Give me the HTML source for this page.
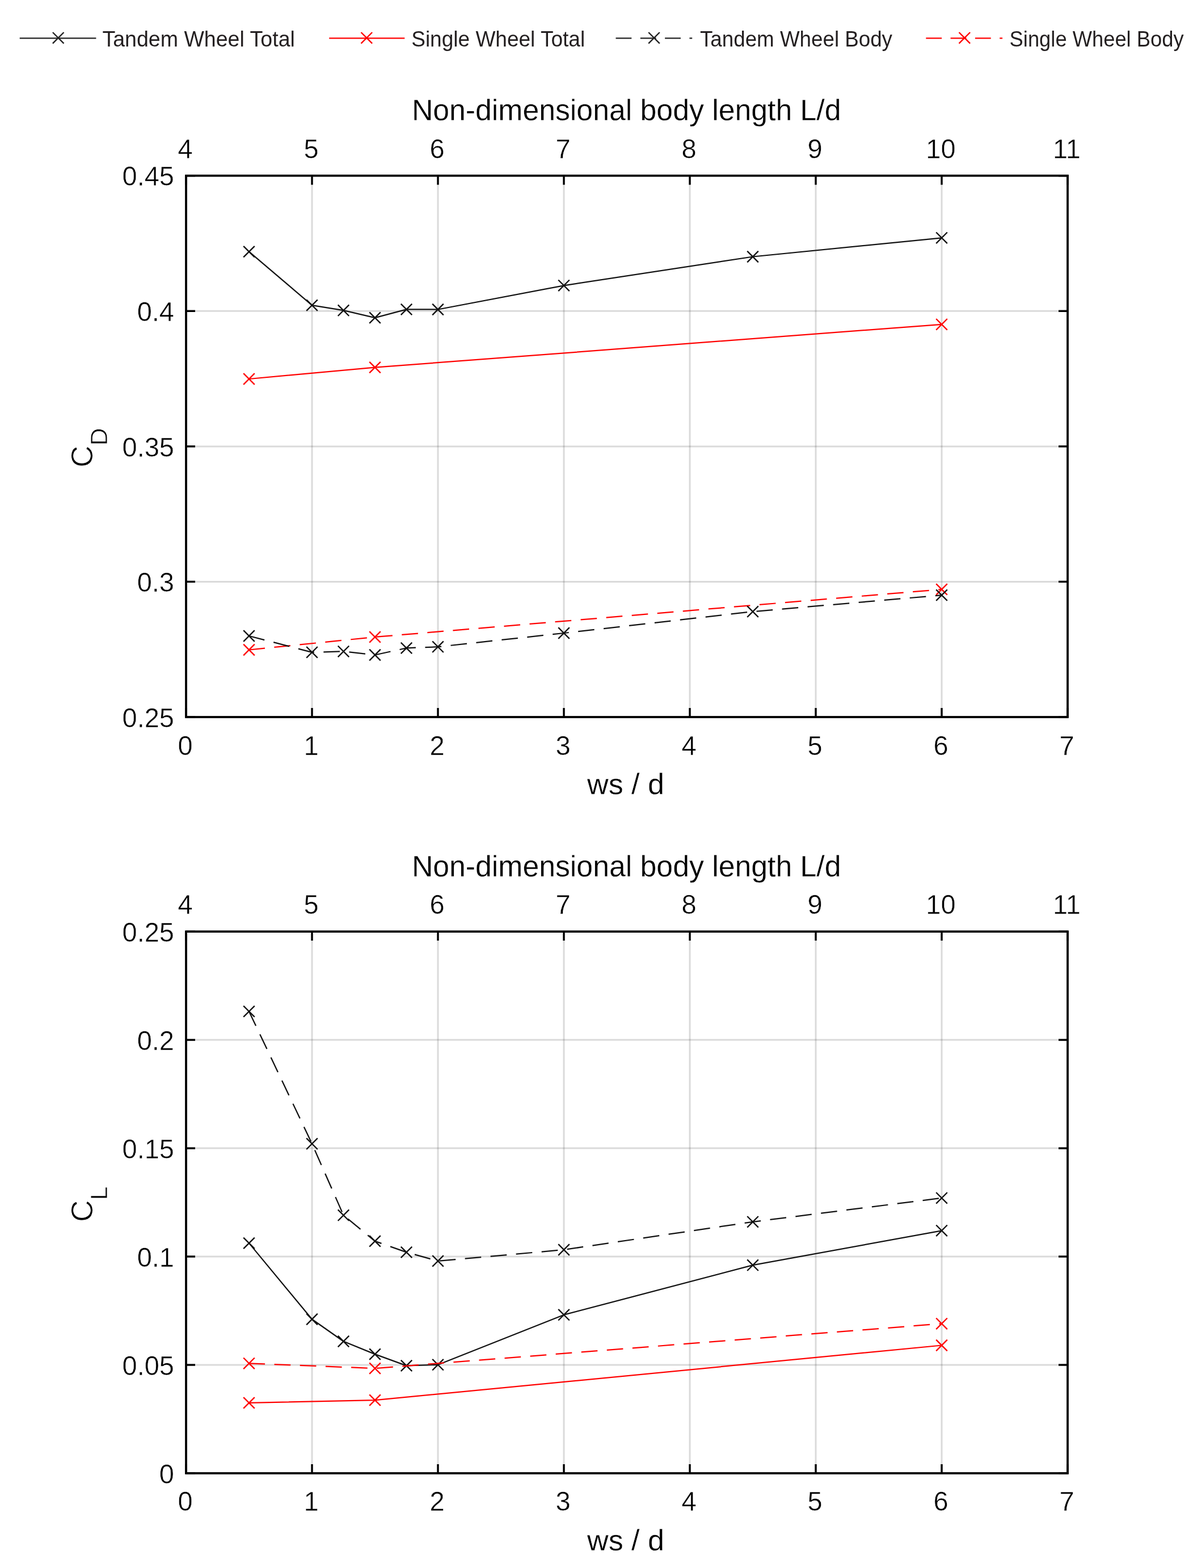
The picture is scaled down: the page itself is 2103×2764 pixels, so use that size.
<!DOCTYPE html>
<html><head><meta charset="utf-8"><title>CD CL vs ws/d</title>
<style>html,body{margin:0;padding:0;background:#fff;} svg{display:block;}</style>
</head><body>
<svg width="2103" height="2764" viewBox="0 0 2103 2764">
<rect width="2103" height="2764" fill="#fff"/>
<line x1="34.7" y1="67.4" x2="169.4" y2="67.4" stroke="#222" stroke-width="2.4"/>
<path d="M92.9 57.0L112.5 76.6M92.9 76.6L112.5 57.0" stroke="#222" stroke-width="2.4" fill="none"/>
<text x="180.4" y="82" font-family='"Liberation Sans", Arial, sans-serif' font-size="38" fill="#231f20" textLength="339.5" lengthAdjust="spacingAndGlyphs">Tandem Wheel Total</text>
<line x1="580.2" y1="67.4" x2="713.3" y2="67.4" stroke="#ff0000" stroke-width="2.4"/>
<path d="M636.5 57.0L656.1 76.6M636.5 76.6L656.1 57.0" stroke="#ff0000" stroke-width="2.4" fill="none"/>
<text x="725.2" y="82" font-family='"Liberation Sans", Arial, sans-serif' font-size="38" fill="#231f20" textLength="306.0" lengthAdjust="spacingAndGlyphs">Single Wheel Total</text>
<line x1="1085.5" y1="67.4" x2="1220.2" y2="67.4" stroke="#222" stroke-width="2.4" stroke-dasharray="27.8 15.5"/>
<path d="M1143.2 57.0L1162.8 76.6M1143.2 76.6L1162.8 57.0" stroke="#222" stroke-width="2.4" fill="none"/>
<text x="1234.0" y="82" font-family='"Liberation Sans", Arial, sans-serif' font-size="38" fill="#231f20" textLength="339.0" lengthAdjust="spacingAndGlyphs">Tandem Wheel Body</text>
<line x1="1632.3" y1="67.4" x2="1767.1" y2="67.4" stroke="#ff0000" stroke-width="2.4" stroke-dasharray="27.8 15.5"/>
<path d="M1690.5 57.0L1710.1 76.6M1690.5 76.6L1710.1 57.0" stroke="#ff0000" stroke-width="2.4" fill="none"/>
<text x="1779.6" y="82" font-family='"Liberation Sans", Arial, sans-serif' font-size="38" fill="#231f20" textLength="307.0" lengthAdjust="spacingAndGlyphs">Single Wheel Body</text>
<line x1="550.0" y1="309.7" x2="550.0" y2="1264.0" stroke="#262626" stroke-width="3" stroke-opacity="0.17"/>
<line x1="772.0" y1="309.7" x2="772.0" y2="1264.0" stroke="#262626" stroke-width="3" stroke-opacity="0.17"/>
<line x1="994.0" y1="309.7" x2="994.0" y2="1264.0" stroke="#262626" stroke-width="3" stroke-opacity="0.17"/>
<line x1="1216.0" y1="309.7" x2="1216.0" y2="1264.0" stroke="#262626" stroke-width="3" stroke-opacity="0.17"/>
<line x1="1438.0" y1="309.7" x2="1438.0" y2="1264.0" stroke="#262626" stroke-width="3" stroke-opacity="0.17"/>
<line x1="1660.0" y1="309.7" x2="1660.0" y2="1264.0" stroke="#262626" stroke-width="3" stroke-opacity="0.17"/>
<line x1="328.0" y1="1025.4" x2="1882.0" y2="1025.4" stroke="#262626" stroke-width="3" stroke-opacity="0.17"/>
<line x1="328.0" y1="786.9" x2="1882.0" y2="786.9" stroke="#262626" stroke-width="3" stroke-opacity="0.17"/>
<line x1="328.0" y1="548.3" x2="1882.0" y2="548.3" stroke="#262626" stroke-width="3" stroke-opacity="0.17"/>
<polyline points="439.0,443.6 550.0,538.1 605.5,547.2 661.0,560.1 716.5,545.4 772.0,545.5 994.0,503.3 1327.0,452.5 1660.0,419.3" fill="none" stroke="#111" stroke-width="2.25" stroke-linejoin="round"/>
<path d="M429.2 433.8L448.8 453.4M429.2 453.4L448.8 433.8" stroke="#111" stroke-width="2.35" fill="none"/>
<path d="M540.2 528.3L559.8 547.9M540.2 547.9L559.8 528.3" stroke="#111" stroke-width="2.35" fill="none"/>
<path d="M595.7 537.4L615.3 557.0M595.7 557.0L615.3 537.4" stroke="#111" stroke-width="2.35" fill="none"/>
<path d="M651.2 550.3L670.8 569.9M651.2 569.9L670.8 550.3" stroke="#111" stroke-width="2.35" fill="none"/>
<path d="M706.7 535.6L726.3 555.2M706.7 555.2L726.3 535.6" stroke="#111" stroke-width="2.35" fill="none"/>
<path d="M762.2 535.7L781.8 555.3M762.2 555.3L781.8 535.7" stroke="#111" stroke-width="2.35" fill="none"/>
<path d="M984.2 493.5L1003.8 513.1M984.2 513.1L1003.8 493.5" stroke="#111" stroke-width="2.35" fill="none"/>
<path d="M1317.2 442.7L1336.8 462.3M1317.2 462.3L1336.8 442.7" stroke="#111" stroke-width="2.35" fill="none"/>
<path d="M1650.2 409.5L1669.8 429.1M1650.2 429.1L1669.8 409.5" stroke="#111" stroke-width="2.35" fill="none"/>
<polyline points="439.0,668.0 661.0,647.6 1660.0,571.8" fill="none" stroke="#ff0000" stroke-width="2.25" stroke-linejoin="round"/>
<path d="M429.2 658.2L448.8 677.8M429.2 677.8L448.8 658.2" stroke="#ff0000" stroke-width="2.35" fill="none"/>
<path d="M651.2 637.8L670.8 657.4M651.2 657.4L670.8 637.8" stroke="#ff0000" stroke-width="2.35" fill="none"/>
<path d="M1650.2 562.0L1669.8 581.6M1650.2 581.6L1669.8 562.0" stroke="#ff0000" stroke-width="2.35" fill="none"/>
<polyline points="439.0,1145.5 661.0,1122.9 1660.0,1038.9" fill="none" stroke="#ff0000" stroke-width="2.25" stroke-linejoin="round" stroke-dasharray="28.7 16.5" stroke-dashoffset="0.6"/>
<path d="M429.2 1135.7L448.8 1155.3M429.2 1155.3L448.8 1135.7" stroke="#ff0000" stroke-width="2.35" fill="none"/>
<path d="M651.2 1113.1L670.8 1132.7M651.2 1132.7L670.8 1113.1" stroke="#ff0000" stroke-width="2.35" fill="none"/>
<path d="M1650.2 1029.1L1669.8 1048.7M1650.2 1048.7L1669.8 1029.1" stroke="#ff0000" stroke-width="2.35" fill="none"/>
<polyline points="439.0,1121.0 550.0,1149.8 605.5,1148.3 661.0,1154.5 716.5,1142.4 772.0,1140.2 994.0,1116.0 1327.0,1078.1 1660.0,1049.1" fill="none" stroke="#111" stroke-width="2.25" stroke-linejoin="round" stroke-dasharray="28.7 16.5" stroke-dashoffset="0.6"/>
<path d="M429.2 1111.2L448.8 1130.8M429.2 1130.8L448.8 1111.2" stroke="#111" stroke-width="2.35" fill="none"/>
<path d="M540.2 1140.0L559.8 1159.6M540.2 1159.6L559.8 1140.0" stroke="#111" stroke-width="2.35" fill="none"/>
<path d="M595.7 1138.5L615.3 1158.1M595.7 1158.1L615.3 1138.5" stroke="#111" stroke-width="2.35" fill="none"/>
<path d="M651.2 1144.7L670.8 1164.3M651.2 1164.3L670.8 1144.7" stroke="#111" stroke-width="2.35" fill="none"/>
<path d="M706.7 1132.6L726.3 1152.2M706.7 1152.2L726.3 1132.6" stroke="#111" stroke-width="2.35" fill="none"/>
<path d="M762.2 1130.4L781.8 1150.0M762.2 1150.0L781.8 1130.4" stroke="#111" stroke-width="2.35" fill="none"/>
<path d="M984.2 1106.2L1003.8 1125.8M984.2 1125.8L1003.8 1106.2" stroke="#111" stroke-width="2.35" fill="none"/>
<path d="M1317.2 1068.3L1336.8 1087.9M1317.2 1087.9L1336.8 1068.3" stroke="#111" stroke-width="2.35" fill="none"/>
<path d="M1650.2 1039.3L1669.8 1058.9M1650.2 1058.9L1669.8 1039.3" stroke="#111" stroke-width="2.35" fill="none"/>
<line x1="328.0" y1="1264.0" x2="328.0" y2="1248.0" stroke="#000" stroke-width="3.4"/>
<line x1="328.0" y1="309.7" x2="328.0" y2="325.7" stroke="#000" stroke-width="3.4"/>
<line x1="550.0" y1="1264.0" x2="550.0" y2="1248.0" stroke="#000" stroke-width="3.4"/>
<line x1="550.0" y1="309.7" x2="550.0" y2="325.7" stroke="#000" stroke-width="3.4"/>
<line x1="772.0" y1="1264.0" x2="772.0" y2="1248.0" stroke="#000" stroke-width="3.4"/>
<line x1="772.0" y1="309.7" x2="772.0" y2="325.7" stroke="#000" stroke-width="3.4"/>
<line x1="994.0" y1="1264.0" x2="994.0" y2="1248.0" stroke="#000" stroke-width="3.4"/>
<line x1="994.0" y1="309.7" x2="994.0" y2="325.7" stroke="#000" stroke-width="3.4"/>
<line x1="1216.0" y1="1264.0" x2="1216.0" y2="1248.0" stroke="#000" stroke-width="3.4"/>
<line x1="1216.0" y1="309.7" x2="1216.0" y2="325.7" stroke="#000" stroke-width="3.4"/>
<line x1="1438.0" y1="1264.0" x2="1438.0" y2="1248.0" stroke="#000" stroke-width="3.4"/>
<line x1="1438.0" y1="309.7" x2="1438.0" y2="325.7" stroke="#000" stroke-width="3.4"/>
<line x1="1660.0" y1="1264.0" x2="1660.0" y2="1248.0" stroke="#000" stroke-width="3.4"/>
<line x1="1660.0" y1="309.7" x2="1660.0" y2="325.7" stroke="#000" stroke-width="3.4"/>
<line x1="1882.0" y1="1264.0" x2="1882.0" y2="1248.0" stroke="#000" stroke-width="3.4"/>
<line x1="1882.0" y1="309.7" x2="1882.0" y2="325.7" stroke="#000" stroke-width="3.4"/>
<line x1="328.0" y1="1264.0" x2="344.0" y2="1264.0" stroke="#000" stroke-width="3.4"/>
<line x1="1882.0" y1="1264.0" x2="1866.0" y2="1264.0" stroke="#000" stroke-width="3.4"/>
<line x1="328.0" y1="1025.4" x2="344.0" y2="1025.4" stroke="#000" stroke-width="3.4"/>
<line x1="1882.0" y1="1025.4" x2="1866.0" y2="1025.4" stroke="#000" stroke-width="3.4"/>
<line x1="328.0" y1="786.9" x2="344.0" y2="786.9" stroke="#000" stroke-width="3.4"/>
<line x1="1882.0" y1="786.9" x2="1866.0" y2="786.9" stroke="#000" stroke-width="3.4"/>
<line x1="328.0" y1="548.3" x2="344.0" y2="548.3" stroke="#000" stroke-width="3.4"/>
<line x1="1882.0" y1="548.3" x2="1866.0" y2="548.3" stroke="#000" stroke-width="3.4"/>
<line x1="328.0" y1="309.7" x2="344.0" y2="309.7" stroke="#000" stroke-width="3.4"/>
<line x1="1882.0" y1="309.7" x2="1866.0" y2="309.7" stroke="#000" stroke-width="3.4"/>
<rect x="328.0" y="309.7" width="1554.0" height="954.3" fill="none" stroke="#000" stroke-width="3.8"/>
<text transform="translate(326.5,1330.5) scale(1,1.03)" font-family='"Liberation Sans", Arial, Helvetica, sans-serif' font-size="47" text-anchor="middle" fill="#000" stroke="#fff" stroke-width="0.5">0</text>
<text transform="translate(326.5,278.8) scale(1,1.03)" font-family='"Liberation Sans", Arial, Helvetica, sans-serif' font-size="47" text-anchor="middle" fill="#000" stroke="#fff" stroke-width="0.5">4</text>
<text transform="translate(548.5,1330.5) scale(1,1.03)" font-family='"Liberation Sans", Arial, Helvetica, sans-serif' font-size="47" text-anchor="middle" fill="#000" stroke="#fff" stroke-width="0.5">1</text>
<text transform="translate(548.5,278.8) scale(1,1.03)" font-family='"Liberation Sans", Arial, Helvetica, sans-serif' font-size="47" text-anchor="middle" fill="#000" stroke="#fff" stroke-width="0.5">5</text>
<text transform="translate(770.5,1330.5) scale(1,1.03)" font-family='"Liberation Sans", Arial, Helvetica, sans-serif' font-size="47" text-anchor="middle" fill="#000" stroke="#fff" stroke-width="0.5">2</text>
<text transform="translate(770.5,278.8) scale(1,1.03)" font-family='"Liberation Sans", Arial, Helvetica, sans-serif' font-size="47" text-anchor="middle" fill="#000" stroke="#fff" stroke-width="0.5">6</text>
<text transform="translate(992.5,1330.5) scale(1,1.03)" font-family='"Liberation Sans", Arial, Helvetica, sans-serif' font-size="47" text-anchor="middle" fill="#000" stroke="#fff" stroke-width="0.5">3</text>
<text transform="translate(992.5,278.8) scale(1,1.03)" font-family='"Liberation Sans", Arial, Helvetica, sans-serif' font-size="47" text-anchor="middle" fill="#000" stroke="#fff" stroke-width="0.5">7</text>
<text transform="translate(1214.5,1330.5) scale(1,1.03)" font-family='"Liberation Sans", Arial, Helvetica, sans-serif' font-size="47" text-anchor="middle" fill="#000" stroke="#fff" stroke-width="0.5">4</text>
<text transform="translate(1214.5,278.8) scale(1,1.03)" font-family='"Liberation Sans", Arial, Helvetica, sans-serif' font-size="47" text-anchor="middle" fill="#000" stroke="#fff" stroke-width="0.5">8</text>
<text transform="translate(1436.5,1330.5) scale(1,1.03)" font-family='"Liberation Sans", Arial, Helvetica, sans-serif' font-size="47" text-anchor="middle" fill="#000" stroke="#fff" stroke-width="0.5">5</text>
<text transform="translate(1436.5,278.8) scale(1,1.03)" font-family='"Liberation Sans", Arial, Helvetica, sans-serif' font-size="47" text-anchor="middle" fill="#000" stroke="#fff" stroke-width="0.5">9</text>
<text transform="translate(1658.5,1330.5) scale(1,1.03)" font-family='"Liberation Sans", Arial, Helvetica, sans-serif' font-size="47" text-anchor="middle" fill="#000" stroke="#fff" stroke-width="0.5">6</text>
<text transform="translate(1658.5,278.8) scale(1,1.03)" font-family='"Liberation Sans", Arial, Helvetica, sans-serif' font-size="47" text-anchor="middle" fill="#000" stroke="#fff" stroke-width="0.5">10</text>
<text transform="translate(1880.5,1330.5) scale(1,1.03)" font-family='"Liberation Sans", Arial, Helvetica, sans-serif' font-size="47" text-anchor="middle" fill="#000" stroke="#fff" stroke-width="0.5">7</text>
<text transform="translate(1880.5,278.8) scale(1,1.03)" font-family='"Liberation Sans", Arial, Helvetica, sans-serif' font-size="47" text-anchor="middle" fill="#000" stroke="#fff" stroke-width="0.5">11</text>
<text transform="translate(307.0,1281.7) scale(1,1.03)" font-family='"Liberation Sans", Arial, Helvetica, sans-serif' font-size="47" text-anchor="end" fill="#000" stroke="#fff" stroke-width="0.5">0.25</text>
<text transform="translate(307.0,1043.1) scale(1,1.03)" font-family='"Liberation Sans", Arial, Helvetica, sans-serif' font-size="47" text-anchor="end" fill="#000" stroke="#fff" stroke-width="0.5">0.3</text>
<text transform="translate(307.0,804.6) scale(1,1.03)" font-family='"Liberation Sans", Arial, Helvetica, sans-serif' font-size="47" text-anchor="end" fill="#000" stroke="#fff" stroke-width="0.5">0.35</text>
<text transform="translate(307.0,566.0) scale(1,1.03)" font-family='"Liberation Sans", Arial, Helvetica, sans-serif' font-size="47" text-anchor="end" fill="#000" stroke="#fff" stroke-width="0.5">0.4</text>
<text transform="translate(307.0,327.4) scale(1,1.03)" font-family='"Liberation Sans", Arial, Helvetica, sans-serif' font-size="47" text-anchor="end" fill="#000" stroke="#fff" stroke-width="0.5">0.45</text>
<text x="1104.2" y="212.4" font-family='"Liberation Sans", Arial, Helvetica, sans-serif' font-size="51.75" text-anchor="middle" fill="#000" stroke="#fff" stroke-width="0.3">Non-dimensional body length L/d</text>
<text x="1103.0" y="1400.0" font-family='"Liberation Sans", Arial, Helvetica, sans-serif' font-size="52" text-anchor="middle" fill="#000" stroke="#fff" stroke-width="0.3">ws / d</text>
<text transform="translate(163.4,789.2) rotate(-90)" font-family='"Liberation Sans", Arial, Helvetica, sans-serif' font-size="53.5" text-anchor="middle" fill="#000" stroke="#fff" stroke-width="0.9">C<tspan font-size="43.2" dy="25.3">D</tspan></text>
<line x1="550.0" y1="1642.1" x2="550.0" y2="2597.0" stroke="#262626" stroke-width="3" stroke-opacity="0.17"/>
<line x1="772.0" y1="1642.1" x2="772.0" y2="2597.0" stroke="#262626" stroke-width="3" stroke-opacity="0.17"/>
<line x1="994.0" y1="1642.1" x2="994.0" y2="2597.0" stroke="#262626" stroke-width="3" stroke-opacity="0.17"/>
<line x1="1216.0" y1="1642.1" x2="1216.0" y2="2597.0" stroke="#262626" stroke-width="3" stroke-opacity="0.17"/>
<line x1="1438.0" y1="1642.1" x2="1438.0" y2="2597.0" stroke="#262626" stroke-width="3" stroke-opacity="0.17"/>
<line x1="1660.0" y1="1642.1" x2="1660.0" y2="2597.0" stroke="#262626" stroke-width="3" stroke-opacity="0.17"/>
<line x1="328.0" y1="2406.0" x2="1882.0" y2="2406.0" stroke="#262626" stroke-width="3" stroke-opacity="0.17"/>
<line x1="328.0" y1="2215.0" x2="1882.0" y2="2215.0" stroke="#262626" stroke-width="3" stroke-opacity="0.17"/>
<line x1="328.0" y1="2024.1" x2="1882.0" y2="2024.1" stroke="#262626" stroke-width="3" stroke-opacity="0.17"/>
<line x1="328.0" y1="1833.1" x2="1882.0" y2="1833.1" stroke="#262626" stroke-width="3" stroke-opacity="0.17"/>
<polyline points="439.0,2191.4 550.0,2325.5 605.5,2364.5 661.0,2387.1 716.5,2407.4 772.0,2405.7 994.0,2317.7 1327.0,2230.2 1660.0,2169.3" fill="none" stroke="#111" stroke-width="2.25" stroke-linejoin="round"/>
<path d="M429.2 2181.6L448.8 2201.2M429.2 2201.2L448.8 2181.6" stroke="#111" stroke-width="2.35" fill="none"/>
<path d="M540.2 2315.7L559.8 2335.3M540.2 2335.3L559.8 2315.7" stroke="#111" stroke-width="2.35" fill="none"/>
<path d="M595.7 2354.7L615.3 2374.3M595.7 2374.3L615.3 2354.7" stroke="#111" stroke-width="2.35" fill="none"/>
<path d="M651.2 2377.3L670.8 2396.9M651.2 2396.9L670.8 2377.3" stroke="#111" stroke-width="2.35" fill="none"/>
<path d="M706.7 2397.6L726.3 2417.2M706.7 2417.2L726.3 2397.6" stroke="#111" stroke-width="2.35" fill="none"/>
<path d="M762.2 2395.9L781.8 2415.5M762.2 2415.5L781.8 2395.9" stroke="#111" stroke-width="2.35" fill="none"/>
<path d="M984.2 2307.9L1003.8 2327.5M984.2 2327.5L1003.8 2307.9" stroke="#111" stroke-width="2.35" fill="none"/>
<path d="M1317.2 2220.4L1336.8 2240.0M1317.2 2240.0L1336.8 2220.4" stroke="#111" stroke-width="2.35" fill="none"/>
<path d="M1650.2 2159.5L1669.8 2179.1M1650.2 2179.1L1669.8 2159.5" stroke="#111" stroke-width="2.35" fill="none"/>
<polyline points="439.0,2472.9 661.0,2468.1 1660.0,2371.5" fill="none" stroke="#ff0000" stroke-width="2.25" stroke-linejoin="round"/>
<path d="M429.2 2463.1L448.8 2482.7M429.2 2482.7L448.8 2463.1" stroke="#ff0000" stroke-width="2.35" fill="none"/>
<path d="M651.2 2458.3L670.8 2477.9M651.2 2477.9L670.8 2458.3" stroke="#ff0000" stroke-width="2.35" fill="none"/>
<path d="M1650.2 2361.7L1669.8 2381.3M1650.2 2381.3L1669.8 2361.7" stroke="#ff0000" stroke-width="2.35" fill="none"/>
<polyline points="439.0,2403.3 661.0,2412.1 1660.0,2333.3" fill="none" stroke="#ff0000" stroke-width="2.25" stroke-linejoin="round" stroke-dasharray="28.7 16.5" stroke-dashoffset="0.6"/>
<path d="M429.2 2393.5L448.8 2413.1M429.2 2413.1L448.8 2393.5" stroke="#ff0000" stroke-width="2.35" fill="none"/>
<path d="M651.2 2402.3L670.8 2421.9M651.2 2421.9L670.8 2402.3" stroke="#ff0000" stroke-width="2.35" fill="none"/>
<path d="M1650.2 2323.5L1669.8 2343.1M1650.2 2343.1L1669.8 2323.5" stroke="#ff0000" stroke-width="2.35" fill="none"/>
<polyline points="439.0,1782.9 550.0,2016.2 605.5,2142.2 661.0,2187.9 716.5,2207.4 772.0,2222.9 994.0,2203.0 1327.0,2153.8 1660.0,2111.8" fill="none" stroke="#111" stroke-width="2.25" stroke-linejoin="round" stroke-dasharray="28.7 16.5" stroke-dashoffset="0.6"/>
<path d="M429.2 1773.1L448.8 1792.7M429.2 1792.7L448.8 1773.1" stroke="#111" stroke-width="2.35" fill="none"/>
<path d="M540.2 2006.4L559.8 2026.0M540.2 2026.0L559.8 2006.4" stroke="#111" stroke-width="2.35" fill="none"/>
<path d="M595.7 2132.4L615.3 2152.0M595.7 2152.0L615.3 2132.4" stroke="#111" stroke-width="2.35" fill="none"/>
<path d="M651.2 2178.1L670.8 2197.7M651.2 2197.7L670.8 2178.1" stroke="#111" stroke-width="2.35" fill="none"/>
<path d="M706.7 2197.6L726.3 2217.2M706.7 2217.2L726.3 2197.6" stroke="#111" stroke-width="2.35" fill="none"/>
<path d="M762.2 2213.1L781.8 2232.7M762.2 2232.7L781.8 2213.1" stroke="#111" stroke-width="2.35" fill="none"/>
<path d="M984.2 2193.2L1003.8 2212.8M984.2 2212.8L1003.8 2193.2" stroke="#111" stroke-width="2.35" fill="none"/>
<path d="M1317.2 2144.0L1336.8 2163.6M1317.2 2163.6L1336.8 2144.0" stroke="#111" stroke-width="2.35" fill="none"/>
<path d="M1650.2 2102.0L1669.8 2121.6M1650.2 2121.6L1669.8 2102.0" stroke="#111" stroke-width="2.35" fill="none"/>
<line x1="328.0" y1="2597.0" x2="328.0" y2="2581.0" stroke="#000" stroke-width="3.4"/>
<line x1="328.0" y1="1642.1" x2="328.0" y2="1658.1" stroke="#000" stroke-width="3.4"/>
<line x1="550.0" y1="2597.0" x2="550.0" y2="2581.0" stroke="#000" stroke-width="3.4"/>
<line x1="550.0" y1="1642.1" x2="550.0" y2="1658.1" stroke="#000" stroke-width="3.4"/>
<line x1="772.0" y1="2597.0" x2="772.0" y2="2581.0" stroke="#000" stroke-width="3.4"/>
<line x1="772.0" y1="1642.1" x2="772.0" y2="1658.1" stroke="#000" stroke-width="3.4"/>
<line x1="994.0" y1="2597.0" x2="994.0" y2="2581.0" stroke="#000" stroke-width="3.4"/>
<line x1="994.0" y1="1642.1" x2="994.0" y2="1658.1" stroke="#000" stroke-width="3.4"/>
<line x1="1216.0" y1="2597.0" x2="1216.0" y2="2581.0" stroke="#000" stroke-width="3.4"/>
<line x1="1216.0" y1="1642.1" x2="1216.0" y2="1658.1" stroke="#000" stroke-width="3.4"/>
<line x1="1438.0" y1="2597.0" x2="1438.0" y2="2581.0" stroke="#000" stroke-width="3.4"/>
<line x1="1438.0" y1="1642.1" x2="1438.0" y2="1658.1" stroke="#000" stroke-width="3.4"/>
<line x1="1660.0" y1="2597.0" x2="1660.0" y2="2581.0" stroke="#000" stroke-width="3.4"/>
<line x1="1660.0" y1="1642.1" x2="1660.0" y2="1658.1" stroke="#000" stroke-width="3.4"/>
<line x1="1882.0" y1="2597.0" x2="1882.0" y2="2581.0" stroke="#000" stroke-width="3.4"/>
<line x1="1882.0" y1="1642.1" x2="1882.0" y2="1658.1" stroke="#000" stroke-width="3.4"/>
<line x1="328.0" y1="2597.0" x2="344.0" y2="2597.0" stroke="#000" stroke-width="3.4"/>
<line x1="1882.0" y1="2597.0" x2="1866.0" y2="2597.0" stroke="#000" stroke-width="3.4"/>
<line x1="328.0" y1="2406.0" x2="344.0" y2="2406.0" stroke="#000" stroke-width="3.4"/>
<line x1="1882.0" y1="2406.0" x2="1866.0" y2="2406.0" stroke="#000" stroke-width="3.4"/>
<line x1="328.0" y1="2215.0" x2="344.0" y2="2215.0" stroke="#000" stroke-width="3.4"/>
<line x1="1882.0" y1="2215.0" x2="1866.0" y2="2215.0" stroke="#000" stroke-width="3.4"/>
<line x1="328.0" y1="2024.1" x2="344.0" y2="2024.1" stroke="#000" stroke-width="3.4"/>
<line x1="1882.0" y1="2024.1" x2="1866.0" y2="2024.1" stroke="#000" stroke-width="3.4"/>
<line x1="328.0" y1="1833.1" x2="344.0" y2="1833.1" stroke="#000" stroke-width="3.4"/>
<line x1="1882.0" y1="1833.1" x2="1866.0" y2="1833.1" stroke="#000" stroke-width="3.4"/>
<line x1="328.0" y1="1642.1" x2="344.0" y2="1642.1" stroke="#000" stroke-width="3.4"/>
<line x1="1882.0" y1="1642.1" x2="1866.0" y2="1642.1" stroke="#000" stroke-width="3.4"/>
<rect x="328.0" y="1642.1" width="1554.0" height="954.9" fill="none" stroke="#000" stroke-width="3.8"/>
<text transform="translate(326.5,2663.0) scale(1,1.03)" font-family='"Liberation Sans", Arial, Helvetica, sans-serif' font-size="47" text-anchor="middle" fill="#000" stroke="#fff" stroke-width="0.5">0</text>
<text transform="translate(326.5,1611.0) scale(1,1.03)" font-family='"Liberation Sans", Arial, Helvetica, sans-serif' font-size="47" text-anchor="middle" fill="#000" stroke="#fff" stroke-width="0.5">4</text>
<text transform="translate(548.5,2663.0) scale(1,1.03)" font-family='"Liberation Sans", Arial, Helvetica, sans-serif' font-size="47" text-anchor="middle" fill="#000" stroke="#fff" stroke-width="0.5">1</text>
<text transform="translate(548.5,1611.0) scale(1,1.03)" font-family='"Liberation Sans", Arial, Helvetica, sans-serif' font-size="47" text-anchor="middle" fill="#000" stroke="#fff" stroke-width="0.5">5</text>
<text transform="translate(770.5,2663.0) scale(1,1.03)" font-family='"Liberation Sans", Arial, Helvetica, sans-serif' font-size="47" text-anchor="middle" fill="#000" stroke="#fff" stroke-width="0.5">2</text>
<text transform="translate(770.5,1611.0) scale(1,1.03)" font-family='"Liberation Sans", Arial, Helvetica, sans-serif' font-size="47" text-anchor="middle" fill="#000" stroke="#fff" stroke-width="0.5">6</text>
<text transform="translate(992.5,2663.0) scale(1,1.03)" font-family='"Liberation Sans", Arial, Helvetica, sans-serif' font-size="47" text-anchor="middle" fill="#000" stroke="#fff" stroke-width="0.5">3</text>
<text transform="translate(992.5,1611.0) scale(1,1.03)" font-family='"Liberation Sans", Arial, Helvetica, sans-serif' font-size="47" text-anchor="middle" fill="#000" stroke="#fff" stroke-width="0.5">7</text>
<text transform="translate(1214.5,2663.0) scale(1,1.03)" font-family='"Liberation Sans", Arial, Helvetica, sans-serif' font-size="47" text-anchor="middle" fill="#000" stroke="#fff" stroke-width="0.5">4</text>
<text transform="translate(1214.5,1611.0) scale(1,1.03)" font-family='"Liberation Sans", Arial, Helvetica, sans-serif' font-size="47" text-anchor="middle" fill="#000" stroke="#fff" stroke-width="0.5">8</text>
<text transform="translate(1436.5,2663.0) scale(1,1.03)" font-family='"Liberation Sans", Arial, Helvetica, sans-serif' font-size="47" text-anchor="middle" fill="#000" stroke="#fff" stroke-width="0.5">5</text>
<text transform="translate(1436.5,1611.0) scale(1,1.03)" font-family='"Liberation Sans", Arial, Helvetica, sans-serif' font-size="47" text-anchor="middle" fill="#000" stroke="#fff" stroke-width="0.5">9</text>
<text transform="translate(1658.5,2663.0) scale(1,1.03)" font-family='"Liberation Sans", Arial, Helvetica, sans-serif' font-size="47" text-anchor="middle" fill="#000" stroke="#fff" stroke-width="0.5">6</text>
<text transform="translate(1658.5,1611.0) scale(1,1.03)" font-family='"Liberation Sans", Arial, Helvetica, sans-serif' font-size="47" text-anchor="middle" fill="#000" stroke="#fff" stroke-width="0.5">10</text>
<text transform="translate(1880.5,2663.0) scale(1,1.03)" font-family='"Liberation Sans", Arial, Helvetica, sans-serif' font-size="47" text-anchor="middle" fill="#000" stroke="#fff" stroke-width="0.5">7</text>
<text transform="translate(1880.5,1611.0) scale(1,1.03)" font-family='"Liberation Sans", Arial, Helvetica, sans-serif' font-size="47" text-anchor="middle" fill="#000" stroke="#fff" stroke-width="0.5">11</text>
<text transform="translate(307.0,2614.7) scale(1,1.03)" font-family='"Liberation Sans", Arial, Helvetica, sans-serif' font-size="47" text-anchor="end" fill="#000" stroke="#fff" stroke-width="0.5">0</text>
<text transform="translate(307.0,2423.7) scale(1,1.03)" font-family='"Liberation Sans", Arial, Helvetica, sans-serif' font-size="47" text-anchor="end" fill="#000" stroke="#fff" stroke-width="0.5">0.05</text>
<text transform="translate(307.0,2232.7) scale(1,1.03)" font-family='"Liberation Sans", Arial, Helvetica, sans-serif' font-size="47" text-anchor="end" fill="#000" stroke="#fff" stroke-width="0.5">0.1</text>
<text transform="translate(307.0,2041.8) scale(1,1.03)" font-family='"Liberation Sans", Arial, Helvetica, sans-serif' font-size="47" text-anchor="end" fill="#000" stroke="#fff" stroke-width="0.5">0.15</text>
<text transform="translate(307.0,1850.8) scale(1,1.03)" font-family='"Liberation Sans", Arial, Helvetica, sans-serif' font-size="47" text-anchor="end" fill="#000" stroke="#fff" stroke-width="0.5">0.2</text>
<text transform="translate(307.0,1659.8) scale(1,1.03)" font-family='"Liberation Sans", Arial, Helvetica, sans-serif' font-size="47" text-anchor="end" fill="#000" stroke="#fff" stroke-width="0.5">0.25</text>
<text x="1104.2" y="1545.0" font-family='"Liberation Sans", Arial, Helvetica, sans-serif' font-size="51.75" text-anchor="middle" fill="#000" stroke="#fff" stroke-width="0.3">Non-dimensional body length L/d</text>
<text x="1103.0" y="2733.0" font-family='"Liberation Sans", Arial, Helvetica, sans-serif' font-size="52" text-anchor="middle" fill="#000" stroke="#fff" stroke-width="0.3">ws / d</text>
<text transform="translate(163.4,2122.7) rotate(-90)" font-family='"Liberation Sans", Arial, Helvetica, sans-serif' font-size="53.5" text-anchor="middle" fill="#000" stroke="#fff" stroke-width="0.9">C<tspan font-size="43.2" dy="25.3">L</tspan></text>
</svg>
</body></html>
